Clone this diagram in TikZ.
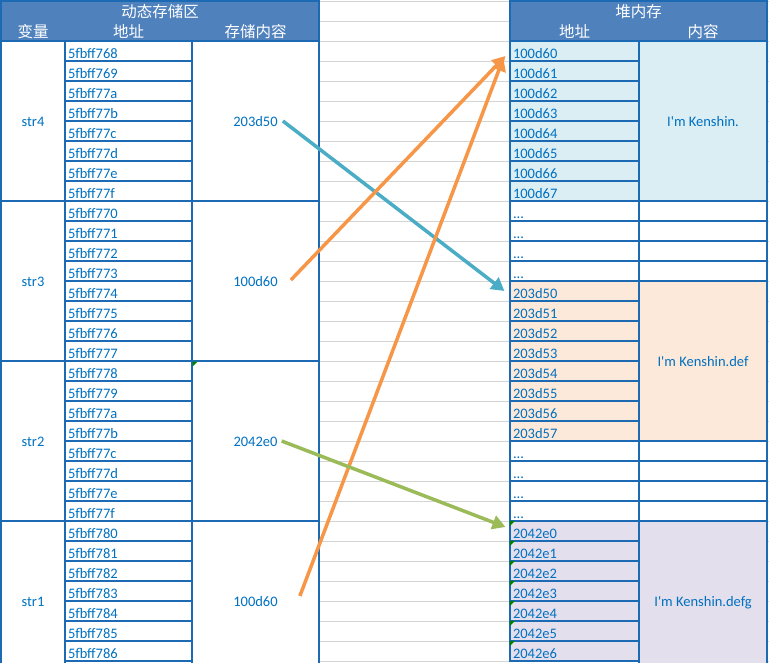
\documentclass[tikz,border=0pt]{standalone}
\usepackage{fontspec}
\newfontfamily\cellfont{Carlito}
\newfontfamily\cjk{Noto Sans CJK SC}
\usetikzlibrary{positioning, arrows.meta, calc}
\definecolor{gridblue}{RGB}{28,106,180}
\definecolor{headblue}{RGB}{79,129,189}
\definecolor{txtblue}{RGB}{0,112,192}
\definecolor{heapA}{RGB}{218,238,243}
\definecolor{heapB}{RGB}{253,233,217}
\definecolor{heapC}{RGB}{228,223,236}
\definecolor{sheetgray}{RGB}{212,212,212}
\definecolor{markgreen}{RGB}{0,128,0}
\definecolor{ptrteal}{RGB}{75,172,198}
\definecolor{ptrorange}{RGB}{247,150,70}
\definecolor{ptrgreen}{RGB}{155,187,89}
\newcommand\gapmark{...}
\tikzset{
  sheetline/.style={draw=sheetgray, line width=0.9pt},
  cell/.style={draw=gridblue, line width=1.1pt, inner sep=0pt, text=txtblue,
    font=\cellfont\fontsize{14.5}{16}\selectfont},
  addrcell/.style={cell, minimum height=20pt, text height=14pt, text depth=0pt, align=left},
  mergecell/.style={cell, minimum height=160pt},
  valtext/.style={inner sep=0pt, text=txtblue, text height=10pt, text depth=0pt,
    font=\cellfont\fontsize{14.5}{16}\selectfont},
  headtext/.style={inner sep=0pt, text=white, font=\cjk\fontsize{15.5}{17}\selectfont},
  ptr/.style={line width=3.5pt, -{Triangle[length=13pt,width=14pt]}},
}
\begin{document}
\begin{tikzpicture}[x=1pt, y=-1pt]
    \useasboundingbox (0,0) rectangle (769,662);
    \clip (0,0) rectangle (769,662);

    % Sheet grid lines
    \foreach \k in {0,...,33}
      \draw[sheetline] (319,{20*\k+1}) -- (769,{20*\k+1});

    % Headers
    \fill[headblue] (1,1) rectangle (319,41);
    \fill[headblue] (510,1) rectangle (767,41);
    \draw[gridblue, line width=1.1pt] (1,1) rectangle (319,41);
    \draw[gridblue, line width=1.1pt] (510,1) rectangle (767,41);
    \node[headtext] (stackhead) at (160,11.5) {动态存储区};
    \node[headtext] (varhead) at (33,31.5) {变量};
    \node[headtext] (addrhead) at (128.5,31.5) {地址};
    \node[headtext] (valhead) at (255.5,31.5) {存储内容};
    \node[headtext] (heaphead) at (638.5,11.5) {堆内存};
    \node[headtext] (haddrhead) at (574.5,31.5) {地址};
    \node[headtext] (hvalhead) at (703,31.5) {内容};

    % Variables and stored values
    \foreach \i/\s/\v/\y in {4/str4/203d50/121, 3/str3/100d60/281, 2/str2/2042e0/441, 1/str1/100d60/601} {
      \node[mergecell, minimum width=64pt, text height=10pt, text depth=0pt] (var\i) at (33,\y) {\s};
      \node[mergecell, minimum width=127pt] (cont\i) at (255.5,\y) {};
      \node[valtext] (v\i) at (cont\i) {\v};
    }

    % Stack addresses
    \foreach \a [count=\r from 0] in {5fbff768,5fbff769,5fbff77a,5fbff77b,5fbff77c,5fbff77d,5fbff77e,5fbff77f,
        5fbff770,5fbff771,5fbff772,5fbff773,5fbff774,5fbff775,5fbff776,5fbff777,
        5fbff778,5fbff779,5fbff77a,5fbff77b,5fbff77c,5fbff77d,5fbff77e,5fbff77f,
        5fbff780,5fbff781,5fbff782,5fbff783,5fbff784,5fbff785,5fbff786}
      \node[addrcell, minimum width=127pt, text width=121pt] (l\r) at (128.5,{51+20*\r}) {\a};

    % Heap addresses
    \foreach \a/\c [count=\r from 0] in {100d60/heapA,100d61/heapA,100d62/heapA,100d63/heapA,
        100d64/heapA,100d65/heapA,100d66/heapA,100d67/heapA,
        \gapmark/white,\gapmark/white,\gapmark/white,\gapmark/white,
        203d50/heapB,203d51/heapB,203d52/heapB,203d53/heapB,
        203d54/heapB,203d55/heapB,203d56/heapB,203d57/heapB,
        \gapmark/white,\gapmark/white,\gapmark/white,\gapmark/white,
        2042e0/heapC,2042e1/heapC,2042e2/heapC,2042e3/heapC,2042e4/heapC,2042e5/heapC,2042e6/heapC}
      \node[addrcell, fill=\c, minimum width=129pt, text width=123pt] (h\r) at (574.5,{51+20*\r}) {\a};

    % Heap contents
    \node[mergecell, fill=heapA, minimum width=128pt, text height=10pt, text depth=0pt] (c1) at (703,121) {I'm Kenshin.};
    \node[mergecell, fill=heapB, minimum width=128pt, text height=10pt, text depth=0pt] (c2) at (703,361) {I'm Kenshin.def};
    \node[mergecell, fill=heapC, minimum width=128pt, text height=10pt, text depth=0pt] (c3) at (703,601) {I'm Kenshin.defg};
    \foreach \r in {8,9,10,11,20,21,22,23}
      \node[cell, minimum width=128pt, minimum height=20pt] (e\r) at (703,{51+20*\r}) {};

    % Green corner marks
    \fill[markgreen] (192.5,361.5) -- ++(5,0) -- ++(-5,5) -- cycle;
    \foreach \r in {24,...,30}
      \fill[markgreen] (h\r.north west) ++(0.5,0.5) -- ++(5,0) -- ++(-5,5) -- cycle;

    % Pointers
    \draw[ptr, ptrteal] ([xshift=5pt]v4.east) -- ([xshift=-5pt]h12.west);
    \draw[ptr, ptrorange] ([shift={(13pt,1pt)}]v3.east) -- ([shift={(-4pt,-5pt)}]h0.west);
    \draw[ptr, ptrorange] ([shift={(22pt,5pt)}]v1.east) -- ([shift={(-6pt,-7pt)}]h0.west);
    \draw[ptr, ptrgreen] ([xshift=4pt]v2.east) -- ([shift={(-4pt,4pt)}]h24.west);
\end{tikzpicture}
\end{document}
